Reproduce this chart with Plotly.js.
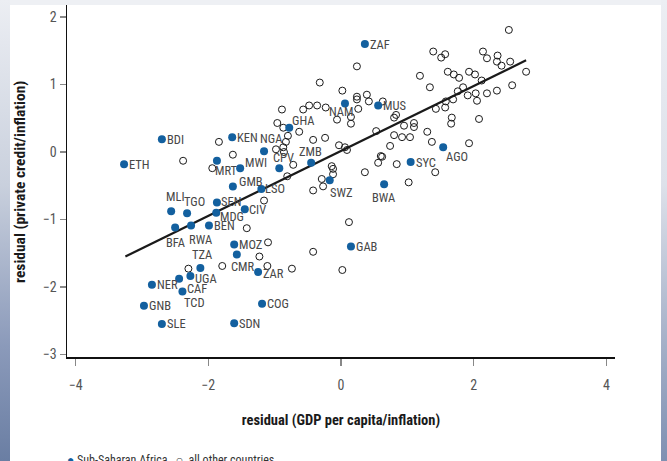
<!DOCTYPE html>
<html>
<head>
<meta charset="utf-8">
<script src="https://cdn.plot.ly/plotly-3.0.1.min.js"></script>
<style>
  html, body { margin: 0; padding: 0; }
  #frame {
    position: relative; width: 667px; height: 461px; overflow: hidden;
    background: #eef0f4;
  }
  #leftstrip {
    position: absolute; left: 0; top: 0; width: 10px; height: 461px;
    background: linear-gradient(to bottom, #eceef3 0%, #c9d0dd 40%, #8b9aba 75%, #6a7ea3 100%);
  }
  #rightstrip {
    position: absolute; right: 0; top: 0; width: 6px; height: 461px;
    background: linear-gradient(to bottom, #eceef3 0%, #dde1ea 40%, #a4afc7 75%, #7f90b2 100%);
  }
  #panel {
    position: absolute; left: 10px; top: 5px; width: 651px; height: 456px; background: #ffffff;
  }
  #chart { position: absolute; left: 0; top: 0; width: 667px; height: 461px; }
</style>
</head>
<body>
<div id="frame">
  <div id="leftstrip"></div>
  <div id="rightstrip"></div>
  <div id="panel"></div>
  <div id="chart"></div>
</div>
<script>
// Sub-Saharan Africa (labelled, filled)
const ssaCodes = ['ZAF','MUS','NAM','GHA','KEN','NGA','CPV','MWI','MRT','GMB','LSO','ZMB','SWZ','BWA','SYC','AGO','GAB','BDI','ETH','SEN','MLI','TGO','MDG','CIV','BFA','RWA','BEN','MOZ','TZA','CMR','ZAR','UGA','NER','CAF','TCD','GNB','SLE','SDN','COG'];
const ssaX = [0.36,0.56,0.06,-0.78,-1.64,-1.16,-0.93,-1.52,-1.87,-1.63,-1.20,-0.45,-0.17,0.65,1.05,1.54,0.15,-2.70,-3.27,-1.87,-2.56,-2.32,-1.88,-1.45,-2.50,-2.26,-1.99,-1.61,-2.12,-1.57,-1.25,-2.27,-2.85,-2.44,-2.39,-2.97,-2.70,-1.61,-1.19];
const ssaY = [1.60,0.69,0.72,0.36,0.22,0.01,-0.24,-0.24,-0.13,-0.51,-0.55,-0.16,-0.42,-0.48,-0.15,0.07,-1.40,0.19,-0.18,-0.75,-0.88,-0.91,-0.90,-0.85,-1.12,-1.09,-1.09,-1.37,-1.72,-1.52,-1.78,-1.84,-1.97,-1.88,-2.07,-2.28,-2.55,-2.54,-2.25];

// All other countries (open circles)
const otherX = [2.53,2.14,2.20,2.36,2.35,2.42,2.55,1.39,1.51,1.57,1.61,1.70,1.78,1.93,2.02,2.12,2.79,1.19,1.34,1.84,1.76,1.91,2.03,2.05,2.20,2.35,2.58,1.58,1.69,1.57,1.43,1.67,1.66,2.08,1.93,0.24,-0.32,0.02,0.24,0.39,0.24,0.42,0.63,-0.89,-0.57,-0.48,-0.36,-0.23,0.26,0.15,0.15,-0.06,0.80,0.83,0.95,1.10,1.10,0.80,0.92,1.04,1.30,1.37,0.74,0.53,-0.03,0.09,0.62,0.84,0.56,0.60,-0.14,1.02,1.42,0.36,-0.96,-0.87,-0.80,-0.63,-0.42,-0.24,-1.84,-1.63,-2.38,-0.98,-0.87,-0.86,-0.83,-0.72,-0.81,-0.12,-0.12,-0.29,-0.27,-0.42,-1.94,-1.16,-1.42,-1.10,-1.23,-1.11,-0.74,-1.79,-2.30,0.12,-0.42,0.02,0.06];
const otherY = [1.81,1.49,1.39,1.43,1.34,1.28,1.34,1.49,1.40,1.45,1.19,1.15,1.10,1.19,1.15,1.06,1.19,1.13,0.96,0.96,0.90,0.84,0.87,0.76,0.87,0.91,0.99,0.75,0.78,0.66,0.64,0.51,0.42,0.49,0.13,1.27,1.03,0.91,0.82,0.85,0.78,0.75,0.75,0.63,0.63,0.69,0.69,0.66,0.64,0.52,0.42,0.48,0.51,0.55,0.39,0.43,0.37,0.25,0.22,0.22,0.30,0.15,0.09,0.31,0.10,0.03,-0.07,-0.18,-0.16,-0.06,-0.21,-0.45,-0.30,-0.30,0.43,0.36,0.24,0.30,0.18,0.21,0.15,-0.04,-0.13,0.04,0.07,0.00,0.15,-0.19,-0.36,-0.25,-0.33,-0.40,-0.51,-0.57,-0.24,-0.72,-1.13,-1.34,-1.55,-1.69,-1.73,-1.69,-1.73,-1.04,-1.48,-1.75,0.07];

// Fitted regression line end points
const fitX = [-3.25, 2.79];
const fitY = [-1.55, 1.36];

// Axis ticks
const xTicks = [-4, -2, 0, 2, 4];
const yTicks = [-3, -2, -1, 0, 1, 2];

// label offsets in pixels [right, down] from the dot to the label's left-middle (style only)
const labelOffset = {
  ZAF:[3,0], MUS:[3,0], NAM:[-18,8], GHA:[1,-7], KEN:[3,0], NGA:[-6,-13], CPV:[-8,-11],
  MWI:[3,-6], MRT:[-4,10], GMB:[4,-5], LSO:[2,-1], ZMB:[-14,-11], SWZ:[-2,12], BWA:[-14,13],
  SYC:[3,0], AGO:[1,9], GAB:[3,0], BDI:[3,0], ETH:[3,0], SEN:[2,-1], MLI:[-7,-15],
  TGO:[-5,-12], MDG:[2,4], CIV:[2,0], BFA:[-11,15], RWA:[-4,14], BEN:[3,0], MOZ:[3,0],
  TZA:[-10,-13], CMR:[-8,12], ZAR:[3,1], UGA:[3,2], NER:[3,0], CAF:[6,10], TCD:[0,11],
  GNB:[3,0], SLE:[3,0], SDN:[3,0], COG:[3,0]
};

const FONT = "'Roboto Condensed', 'Archivo Narrow', 'PT Sans Narrow', sans-serif";
const BLUE = '#13609f';

const traces = [
  {
    type: 'scatter', mode: 'markers', x: otherX, y: otherY, name: 'all other countries',
    marker: { symbol: 'circle-open', size: 7, color: '#1a1a1a', line: { width: 1 } },
    hoverinfo: 'x+y'
  },
  {
    type: 'scatter', mode: 'lines', x: fitX, y: fitY, name: 'fit',
    line: { color: '#1a1a1a', width: 2.2 }, hoverinfo: 'skip'
  },
  {
    type: 'scatter', mode: 'markers', x: ssaX, y: ssaY, text: ssaCodes, name: 'Sub-Saharan Africa',
    marker: { symbol: 'circle', size: 8, color: BLUE },
    cliponaxis: false
  }
];

const labelAnnotations = ssaCodes.map((code, i) => {
  const off = labelOffset[code] || [3, 0];
  return {
    x: ssaX[i], y: ssaY[i], xref: 'x', yref: 'y', text: code, showarrow: false,
    xanchor: 'left', yanchor: 'middle', xshift: off[0], yshift: -off[1],
    font: { family: FONT, size: 12.5, color: '#474747' }
  };
});

const layout = {
  width: 667, height: 461,
  margin: { l: 67, r: 52, t: 5, b: 104 },
  paper_bgcolor: 'rgba(0,0,0,0)',
  plot_bgcolor: 'rgba(0,0,0,0)',
  showlegend: false,
  font: { family: FONT, size: 12, color: '#444' },
  xaxis: {
    range: [-4.13, 4.13], tickvals: xTicks, showgrid: false, zeroline: false,
    showline: true, linecolor: '#111', linewidth: 1.5,
    ticks: 'outside', ticklen: 7, tickcolor: '#888', tickwidth: 1.5,
    ticklabelstandoff: 8,
    tickfont: { family: FONT, size: 14, color: '#555' },
    title: { text: '<b>residual (GDP per capita/inflation)</b>', font: { family: FONT, size: 14.5, color: '#1a1a1a' }, standoff: 22 }
  },
  yaxis: {
    range: [-3.04, 2.18], tickvals: yTicks, showgrid: false, zeroline: false,
    showline: true, linecolor: '#111', linewidth: 1.5,
    ticks: 'outside', ticklen: 6, tickcolor: '#888', tickwidth: 1.5,
    tickfont: { family: FONT, size: 14, color: '#555' }
  },
  annotations: labelAnnotations.concat([
    {
      xref: 'paper', yref: 'paper', x: -47 / 548, y: 0.497, xanchor: 'center', yanchor: 'middle',
      showarrow: false, textangle: -90,
      text: '<b>residual (private credit/inflation)</b>',
      font: { family: FONT, size: 15.5, color: '#1a1a1a' }
    },
    {
      xref: 'paper', yref: 'paper', x: 0, y: -0.268, xanchor: 'left', yanchor: 'top', showarrow: false,
      xshift: -2,
      text: '<span style="color:' + BLUE + '">●</span> Sub-Saharan Africa   ○  all other countries',
      font: { family: FONT, size: 12, color: '#333' }
    }
  ])
};

Plotly.newPlot('chart', traces, layout, { staticPlot: true, displayModeBar: false });
</script>
</body>
</html>
